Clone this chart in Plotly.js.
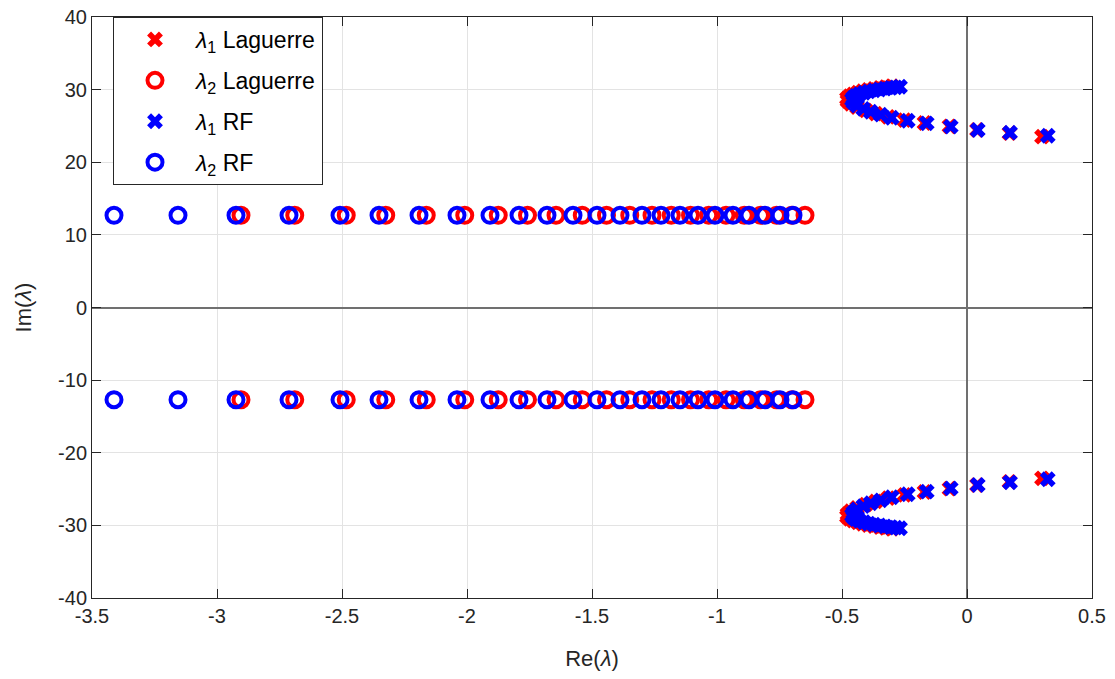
<!DOCTYPE html>
<html>
<head>
<meta charset="utf-8">
<script src="https://cdn.plot.ly/plotly-3.0.1.min.js"></script>
<style>html,body{margin:0;padding:0;background:#fff;}#chart{width:1115px;height:679px;}</style>
</head>
<body>
<div id="chart"></div>
<script>
// lambda_1 Laguerre (upper half, conjugates listed below)
const reLag1 = [0.300, 0.170, 0.040, -0.070, -0.170, -0.250, -0.315, -0.365, -0.405, -0.440, -0.465, -0.478, -0.480, -0.470, -0.455, -0.437, -0.417, -0.395, -0.372, -0.348, -0.325, -0.300];
const imLag1Up = [23.52, 24.00, 24.45, 24.95, 25.40, 25.80, 26.25, 26.70, 27.15, 27.60, 28.05, 28.45, 28.80, 29.10, 29.35, 29.58, 29.78, 29.95, 30.10, 30.23, 30.35, 30.47];
const imLag1Dn = [-23.52, -24.00, -24.45, -24.95, -25.40, -25.80, -26.25, -26.70, -27.15, -27.60, -28.05, -28.45, -28.80, -29.10, -29.35, -29.58, -29.78, -29.95, -30.10, -30.23, -30.35, -30.47];

// lambda_2 Laguerre
const reLag2 = [-2.904, -2.689, -2.483, -2.325, -2.163, -2.009, -1.875, -1.758, -1.644, -1.539, -1.442, -1.349, -1.260, -1.183, -1.106, -1.033, -0.964, -0.891, -0.826, -0.762, -0.701, -0.648];
const imLag2Up = [12.7, 12.7, 12.7, 12.7, 12.7, 12.7, 12.7, 12.7, 12.7, 12.7, 12.7, 12.7, 12.7, 12.7, 12.7, 12.7, 12.7, 12.7, 12.7, 12.7, 12.7, 12.7];
const imLag2Dn = [-12.7, -12.7, -12.7, -12.7, -12.7, -12.7, -12.7, -12.7, -12.7, -12.7, -12.7, -12.7, -12.7, -12.7, -12.7, -12.7, -12.7, -12.7, -12.7, -12.7, -12.7, -12.7];

// lambda_1 RF
const reRF1 = [0.323, 0.172, 0.043, -0.065, -0.161, -0.237, -0.301, -0.345, -0.385, -0.415, -0.440, -0.455, -0.460, -0.455, -0.445, -0.430, -0.412, -0.393, -0.372, -0.350, -0.328, -0.305, -0.285, -0.268];
const imRF1Up = [23.65, 24.07, 24.44, 24.90, 25.36, 25.72, 26.13, 26.55, 26.95, 27.35, 27.80, 28.25, 28.60, 28.90, 29.15, 29.38, 29.57, 29.75, 29.90, 30.02, 30.13, 30.23, 30.32, 30.40];
const imRF1Dn = [-23.65, -24.07, -24.44, -24.90, -25.36, -25.72, -26.13, -26.55, -26.95, -27.35, -27.80, -28.25, -28.60, -28.90, -29.15, -29.38, -29.57, -29.75, -29.90, -30.02, -30.13, -30.23, -30.32, -30.40];

// lambda_2 RF
const reRF2 = [-3.412, -3.156, -2.924, -2.712, -2.508, -2.352, -2.192, -2.040, -1.908, -1.792, -1.680, -1.576, -1.480, -1.388, -1.300, -1.224, -1.148, -1.076, -1.008, -0.936, -0.872, -0.808, -0.748, -0.696];
const imRF2Up = [12.7, 12.7, 12.7, 12.7, 12.7, 12.7, 12.7, 12.7, 12.7, 12.7, 12.7, 12.7, 12.7, 12.7, 12.7, 12.7, 12.7, 12.7, 12.7, 12.7, 12.7, 12.7, 12.7, 12.7];
const imRF2Dn = [-12.7, -12.7, -12.7, -12.7, -12.7, -12.7, -12.7, -12.7, -12.7, -12.7, -12.7, -12.7, -12.7, -12.7, -12.7, -12.7, -12.7, -12.7, -12.7, -12.7, -12.7, -12.7, -12.7, -12.7];

// tick labels
const xTickVals = [-3.5, -3, -2.5, -2, -1.5, -1, -0.5, 0, 0.5];
const xTickText = ['-3.5', '-3', '-2.5', '-2', '-1.5', '-1', '-0.5', '0', '0.5'];
const yTickVals = [-40, -30, -20, -10, 0, 10, 20, 30, 40];
const yTickText = ['-40', '-30', '-20', '-10', '0', '10', '20', '30', '40'];

const legendNames = ['<i>λ</i><sub>1</sub> Laguerre', '<i>λ</i><sub>2</sub> Laguerre', '<i>λ</i><sub>1</sub> RF', '<i>λ</i><sub>2</sub> RF'];

const RED = '#ff0000', BLUE = '#0000ff';
function xTrace(re, up, dn, name, color, g) {
  return {x: re.concat(re), y: up.concat(dn), mode: 'markers', type: 'scatter', name: name, legendgroup: g,
    marker: {symbol: 'x', size: 14, color: color, line: {width: 0}}};
}
function oTrace(re, up, dn, name, color, g) {
  return {x: re.concat(re), y: up.concat(dn), mode: 'markers', type: 'scatter', name: name, legendgroup: g,
    marker: {symbol: 'circle-open', size: 15, color: color, line: {width: 4, color: color}}};
}

const data = [
  xTrace(reLag1, imLag1Up, imLag1Dn, legendNames[0], RED, 'a'),
  oTrace(reLag2, imLag2Up, imLag2Dn, legendNames[1], RED, 'b'),
  xTrace(reRF1, imRF1Up, imRF1Dn, legendNames[2], BLUE, 'c'),
  oTrace(reRF2, imRF2Up, imRF2Dn, legendNames[3], BLUE, 'd')
];

const FONT = 'Liberation Sans, Arial, sans-serif';
const axisCommon = {
  showline: true, linecolor: '#262626', linewidth: 1, mirror: 'ticks',
  ticks: 'inside', ticklen: 9, tickcolor: '#262626', tickmode: 'array',
  showgrid: true, gridcolor: '#e3e3e3', gridwidth: 1,
  zeroline: true, zerolinecolor: '#707070', zerolinewidth: 2,
  tickfont: {family: FONT, size: 20, color: '#262626'}
};

const layout = {
  width: 1115, height: 679,
  margin: {l: 92, r: 23, t: 17, b: 81},
  paper_bgcolor: '#ffffff', plot_bgcolor: '#ffffff',
  font: {family: FONT, color: '#262626'},
  xaxis: Object.assign({}, axisCommon, {range: [-3.5, 0.5], tickvals: xTickVals, ticktext: xTickText,
    title: {text: 'Re(<i>λ</i>)', font: {size: 22, color: '#262626'}, standoff: 24}}),
  yaxis: Object.assign({}, axisCommon, {range: [-40, 40], tickvals: yTickVals, ticktext: yTickText,
    title: {text: 'Im(<i>λ</i>)', font: {size: 22, color: '#262626'}, standoff: 20}}),
  showlegend: true,
  legend: {x: 0.021, y: 1, xanchor: 'left', yanchor: 'top', bgcolor: '#ffffff',
    bordercolor: '#262626', borderwidth: 1, tracegroupgap: 8,
    font: {family: FONT, size: 23, color: '#000000'}, itemwidth: 72}
};

Plotly.newPlot('chart', data, layout, {displayModeBar: false, staticPlot: true});
</script>
</body>
</html>
